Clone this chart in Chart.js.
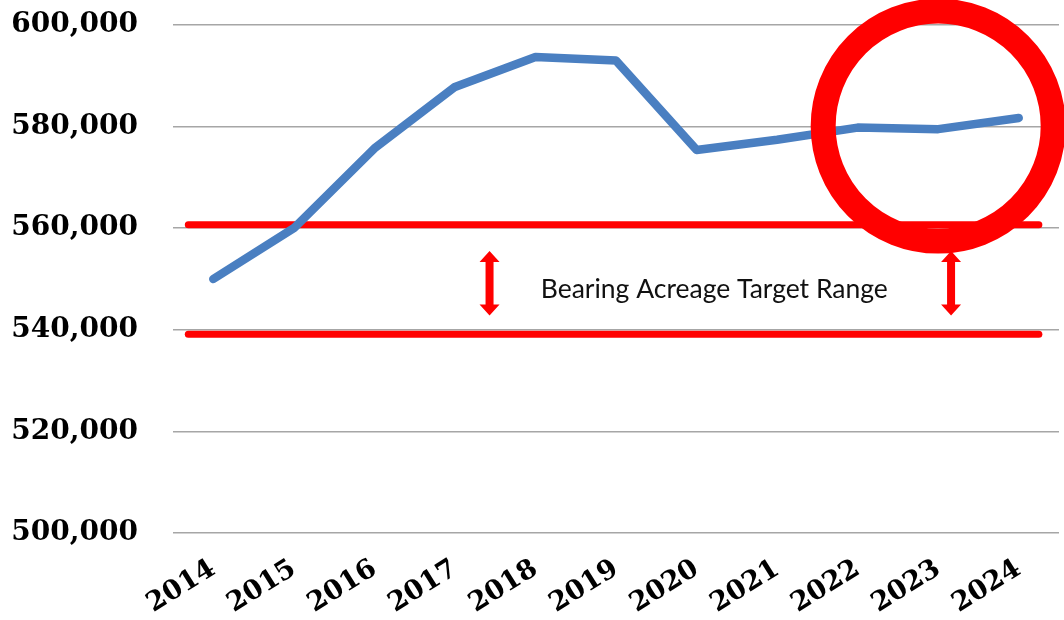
<!DOCTYPE html>
<html>
<head>
<meta charset="utf-8">
<script src="https://cdn.jsdelivr.net/npm/chart.js@4"></script>
<style>
  html, body { margin: 0; padding: 0; background: #fff; }
  #wrap { width: 1064px; height: 620px; position: relative; }
</style>
</head>
<body>
<div id="wrap"><canvas id="acreChart"></canvas></div>
<script>
// --- data ---
const years = [2014, 2015, 2016, 2017, 2018, 2019, 2020, 2021, 2022, 2023, 2024];
const bearingAcres = [550000, 560000, 575700, 587800, 593700, 593000, 575400, 577400, 579800, 579500, 581700];

// target range band (upper / lower red lines)
const targetUpper = 560700;
const targetLower = 539100;
const targetSpan = [2013.69, 2024.25];   // x extent of the red lines

// double arrows between the target lines
const arrowYears = [2017.43, 2023.16];
const arrowRange = [555500, 542800];

const rangeLabel = 'Bearing Acreage Target Range';
const rangeLabelPos = { x: 2020.22, y: 548000 };

// highlight circle around the last years
const circleCenter = { x: 2023, y: 580100 };

const yTicks = [500000, 520000, 540000, 560000, 580000, 600000];

const serifBold = '"DejaVu Serif", serif';

// draws the arrows and the range label through the chart scales
const annotationPlugin = {
    id: 'rangeNotes',
    afterDatasetsDraw(chart) {
        const { ctx, scales: { x, y } } = chart;
        ctx.save();
        ctx.fillStyle = '#ff0000';
        arrowYears.forEach(yr => {
            const px = x.getPixelForValue(yr);
            const top = y.getPixelForValue(arrowRange[0]);
            const bot = y.getPixelForValue(arrowRange[1]);
            const head = 11, hw = 10, sw = 4;
            ctx.beginPath();
            ctx.moveTo(px, top);
            ctx.lineTo(px + hw, top + head);
            ctx.lineTo(px + sw, top + head);
            ctx.lineTo(px + sw, bot - head);
            ctx.lineTo(px + hw, bot - head);
            ctx.lineTo(px, bot);
            ctx.lineTo(px - hw, bot - head);
            ctx.lineTo(px - sw, bot - head);
            ctx.lineTo(px - sw, top + head);
            ctx.lineTo(px - hw, top + head);
            ctx.closePath();
            ctx.fill();
        });
        ctx.fillStyle = '#111';
        ctx.font = '26.5px Lato, "Open Sans", sans-serif';
        ctx.textAlign = 'center';
        ctx.textBaseline = 'middle';
        ctx.fillText(rangeLabel, x.getPixelForValue(rangeLabelPos.x), y.getPixelForValue(rangeLabelPos.y));
        ctx.restore();
    }
};

const ctx = document.getElementById('acreChart');

new Chart(ctx, {
    type: 'line',
    data: {
        datasets: [
            {
                // highlight ring, drawn on top
                type: 'scatter',
                data: [circleCenter],
                pointRadius: 115,
                pointHoverRadius: 115,
                pointBorderWidth: 25,
                pointBorderColor: '#ff0000',
                pointBackgroundColor: 'rgba(0,0,0,0)',
                clip: false,
                order: 0
            },
            {
                data: years.map((yr, i) => ({ x: yr, y: bearingAcres[i] })),
                borderColor: '#4a7fc1',
                borderWidth: 8.5,
                borderCapStyle: 'round',
                borderJoinStyle: 'round',
                pointRadius: 0,
                tension: 0,
                order: 1
            },
            {
                data: targetSpan.map(v => ({ x: v, y: targetUpper })),
                borderColor: '#ff0000',
                borderWidth: 7,
                borderCapStyle: 'round',
                pointRadius: 0,
                order: 2
            },
            {
                data: targetSpan.map(v => ({ x: v, y: targetLower })),
                borderColor: '#ff0000',
                borderWidth: 7,
                borderCapStyle: 'round',
                pointRadius: 0,
                order: 2
            }
        ]
    },
    options: {
        responsive: true,
        maintainAspectRatio: false,
        animation: false,
        layout: { autoPadding: false, padding: { top: 25, right: 5, bottom: 0, left: 0 } },
        plugins: {
            legend: { display: false },
            tooltip: { enabled: false }
        },
        scales: {
            x: {
                type: 'linear',
                min: 2013.5,
                max: 2024.5,
                afterBuildTicks: axis => { axis.ticks = years.map(v => ({ value: v })); },
                grid: { display: false, drawTicks: false },
                border: { display: false },
                afterFit: axis => {
                    axis.height = 87;
                    axis.paddingLeft = 0;
                    axis.paddingRight = 0;
                },
                ticks: {
                    autoSkip: false,
                    minRotation: 32,
                    maxRotation: 32,
                    padding: 20,
                    color: '#000',
                    font: { family: serifBold, size: 27, weight: 'bold' },
                    callback: v => String(v)
                }
            },
            y: {
                min: 500000,
                max: 600000,
                afterBuildTicks: axis => { axis.ticks = yTicks.map(v => ({ value: v })); },
                grid: { color: '#a6a6a6', lineWidth: 1.5, drawTicks: false },
                border: { display: false },
                afterFit: axis => {
                    axis.width = 173;
                    axis.paddingTop = 0;
                    axis.paddingBottom = 0;
                },
                ticks: {
                    padding: 35,
                    color: '#000',
                    font: { family: serifBold, size: 28, weight: 'bold' },
                    callback: v => v.toLocaleString('en-US')
                }
            }
        }
    },
    plugins: [annotationPlugin]
});
</script>
</body>
</html>
